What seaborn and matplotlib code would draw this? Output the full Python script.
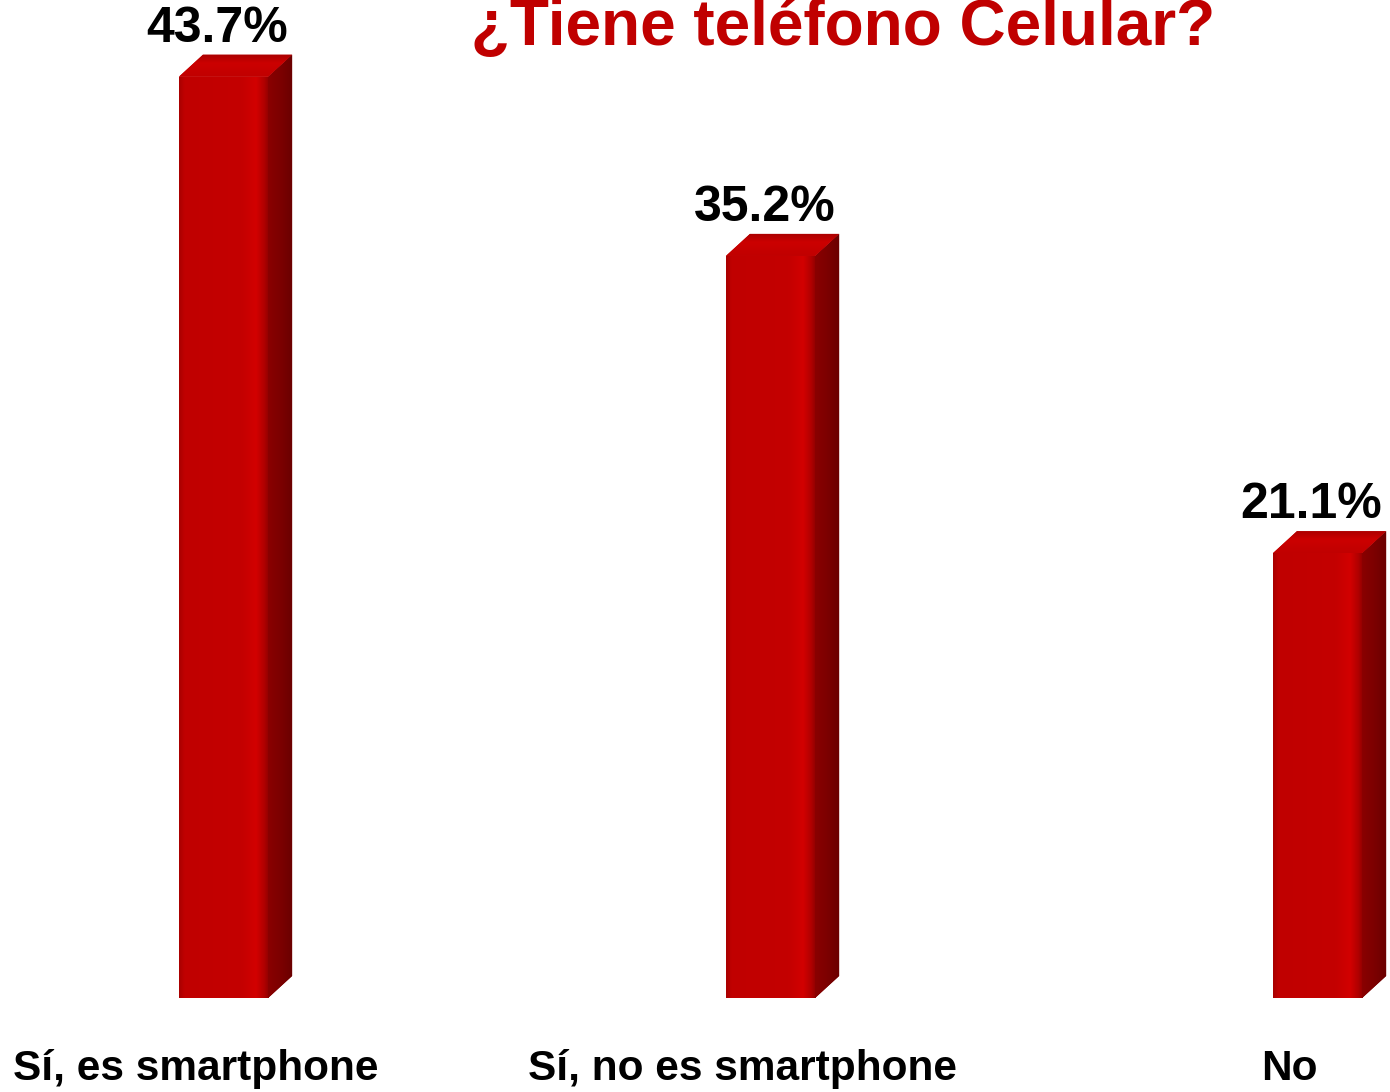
import numpy as np
import pandas as pd
import seaborn as sns
import matplotlib
matplotlib.use("Agg")
import matplotlib.pyplot as plt
from matplotlib.patches import Polygon
from matplotlib.colors import LinearSegmentedColormap
from matplotlib.transforms import ScaledTranslation

# Survey answers and their shares (%)
categories = ["Sí, es smartphone", "Sí, no es smartphone", "No"]
shares = [43.7, 35.2, 21.1]
title_text = "¿Tiene teléfono Celular?"

sns.set_theme(style="white")
plt.rcParams["font.family"] = ["Liberation Sans", "DejaVu Sans"]

W, H, DPI = 1390, 1092, 100
fig = plt.figure(figsize=(W / DPI, H / DPI), dpi=DPI)
fig.patch.set_facecolor("white")

# axes fill the width; baseline sits 94 px above the bottom edge
ax = fig.add_axes([0, 94 / H, 1, 1 - 94 / H])
ax.set_facecolor("white")

df = pd.DataFrame({"cat": categories, "share": shares})
bar_w = 0.163
sns.barplot(data=df, x="cat", y="share", color="#C00000", width=bar_w,
            saturation=1, ax=ax, zorder=2)

ax.set_xlim(-0.4086, 2.1325)
ax.set_ylim(0, 47.34)
for s in ax.spines.values():
    s.set_visible(False)
ax.set_xlabel("")
ax.set_ylabel("")
ax.set_yticks([])
ax.tick_params(axis="x", length=0, pad=59)
shift = ScaledTranslation(-28 / DPI, 0, fig.dpi_scale_trans)
for lab in ax.get_xticklabels():
    lab.set_fontsize(30.5)
    lab.set_fontweight("bold")
    lab.set_color("black")
    lab.set_va("baseline")
    lab.set_transform(lab.get_transform() + shift)

# depth of the extruded look, in data units
dx = 24 / 547
dy = 22 / 21.08

front_cmap = LinearSegmentedColormap.from_list(
    "front", [(0, "#A80000"), (0.06, "#C00000"), (0.7, "#C40000"),
              (0.86, "#D20000"), (0.95, "#B00000"), (1, "#900000")])
side_cmap = LinearSegmentedColormap.from_list(
    "side", [(0, "#8A0000"), (0.5, "#7C0000"), (1, "#6A0000")])
top_cmap = LinearSegmentedColormap.from_list(
    "top", [(0, "#C00000"), (0.6, "#CC0000"), (1, "#A80000")])

grad = np.linspace(0, 1, 256).reshape(1, -1)
vgrad = np.linspace(0, 1, 256).reshape(-1, 1)

for patch, val in zip(ax.patches, shares):
    x0 = patch.get_x()
    w = patch.get_width()
    h = patch.get_height()
    x1 = x0 + w
    # front face shading
    im = ax.imshow(grad, extent=[x0, x1, 0, h], aspect="auto",
                   cmap=front_cmap, zorder=3, interpolation="bicubic")
    im.set_clip_path(patch)
    # right side face
    side = Polygon([(x1, 0), (x1 + dx, dy), (x1 + dx, h + dy), (x1, h)],
                   closed=True, facecolor="#7C0000", edgecolor="none", zorder=2)
    ax.add_patch(side)
    ims = ax.imshow(grad, extent=[x1, x1 + dx, 0, h + dy], aspect="auto",
                    cmap=side_cmap, zorder=3, interpolation="bicubic")
    ims.set_clip_path(side)
    # top face
    top = Polygon([(x0, h), (x0 + dx, h + dy), (x1 + dx, h + dy), (x1, h)],
                  closed=True, facecolor="#C40000", edgecolor="none", zorder=2)
    ax.add_patch(top)
    imt = ax.imshow(vgrad, extent=[x0, x1 + dx, h, h + dy], aspect="auto",
                    cmap=top_cmap, zorder=3, origin="lower",
                    interpolation="bicubic")
    imt.set_clip_path(top)
    # value label
    cx = x0 + w / 2 - 6 / 547
    ax.text(cx, val + 35 / 21.08, f"{val:.1f}%", ha="center", va="baseline",
            fontsize=36, fontweight="bold", color="black", zorder=4)

ax.set_xlim(-0.4086, 2.1325)
ax.set_ylim(0, 47.34)

fig.text(843.5 / W, 1 - 45 / H, title_text, ha="center", va="baseline",
         fontsize=46, fontweight="bold", color="#C00000")

fig.savefig("out.png", dpi=DPI, facecolor="white")
